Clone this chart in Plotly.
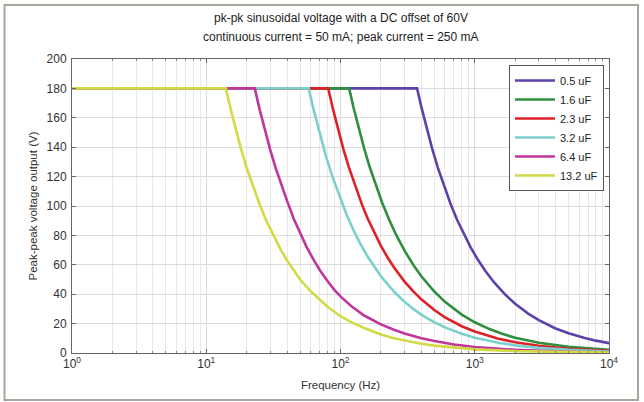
import plotly.graph_objects as go

# ---- data ----
labels = ["0.5 uF", "1.6 uF", "2.3 uF", "3.2 uF", "6.4 uF", "13.2 uF"]
colors = ["#5e41a8", "#2f8f3f", "#dc2127", "#7ccfcf", "#c0369c", "#d2da45"]

f_05 = [1, 372, 400, 440, 480, 530, 590, 660, 740, 830, 930, 1050, 1200, 1400, 1700, 2000, 2500, 3000, 4000, 5000, 6500, 8000, 10000]
v_05 = [180, 180, 167.4, 152.2, 139.5, 126.3, 113.5, 101.5, 90.5, 80.7, 72, 63.8, 55.8, 47.8, 39.4, 33.5, 26.8, 22.3, 16.7, 13.4, 10.3, 8.4, 6.7]

f_16 = [1, 116, 125, 138, 150, 165, 185, 205, 230, 260, 300, 350, 400, 500, 600, 700, 800, 1000, 1300, 1600, 2000, 3000, 5000, 10000]
v_16 = [180, 180, 167, 151.3, 139.2, 126.5, 112.9, 101.9, 90.8, 80.3, 69.6, 59.7, 52.2, 41.8, 34.8, 29.8, 26.1, 20.9, 16.1, 13.1, 10.4, 7.0, 4.2, 2.1]

f_23 = [1, 81, 88, 96, 105, 115, 130, 145, 160, 180, 200, 225, 250, 300, 350, 400, 500, 600, 800, 1000, 1500, 2000, 3000, 5000, 10000]
v_23 = [180, 180, 165.7, 151.9, 138.9, 126.8, 112.2, 100.6, 91.1, 81, 72.9, 64.8, 58.3, 48.6, 41.7, 36.5, 29.2, 24.3, 18.2, 14.6, 9.7, 7.3, 4.9, 2.9, 1.5]

f_32 = [1, 58, 63, 70, 78, 87, 100, 112, 125, 140, 160, 180, 200, 250, 300, 350, 400, 500, 600, 800, 1000, 1500, 2000, 3000, 5000, 10000]
v_32 = [180, 180, 165.7, 149.1, 133.8, 120, 104.4, 93.2, 83.5, 74.6, 65.3, 58, 52.2, 41.8, 34.8, 29.8, 26.1, 20.9, 17.4, 13.1, 10.4, 7.0, 5.2, 3.5, 2.1, 1.0]

f_64 = [1, 23, 25, 27, 30, 33, 36, 40, 45, 50, 56, 63, 70, 80, 90, 100, 120, 150, 200, 250, 300, 400, 500, 700, 1000, 2000, 5000, 10000]
v_64 = [180, 180, 165.6, 153.3, 138, 125.5, 115, 103.5, 91, 81.5, 72, 63.5, 56.5, 49, 43, 38.5, 32, 25.5, 19.5, 15.8, 13.3, 10.1, 8.1, 5.8, 4.1, 2.1, 0.8, 0.4]

f_132 = [1, 14, 15, 16, 18, 20, 22, 25, 28, 32, 36, 40, 45, 50, 60, 70, 80, 100, 120, 150, 200, 250, 300, 400, 500, 700, 1000, 2000, 5000, 10000]
v_132 = [180, 180, 168, 158, 140, 126, 115, 101, 90, 79, 70, 63, 56, 50, 42, 36, 31.5, 25, 21, 17, 12.6, 10, 8.4, 6.3, 5, 3.6, 2.5, 1.3, 0.5, 0.3]

x_tickvals = [1, 10, 100, 1000, 10000]
x_ticktext = ["10<sup>0</sup>", "10<sup>1</sup>", "10<sup>2</sup>", "10<sup>3</sup>", "10<sup>4</sup>"]
y_tickvals = [0, 20, 40, 60, 80, 100, 120, 140, 160, 180, 200]

series = [(f_05, v_05), (f_16, v_16), (f_23, v_23), (f_32, v_32), (f_64, v_64), (f_132, v_132)]

FONT = "Liberation Sans, Arial, sans-serif"

fig = go.Figure()
for (fx, vy), name, col in zip(series, labels, colors):
    fig.add_trace(go.Scatter(x=fx, y=vy, mode="lines", name=name,
                             line=dict(color=col, width=2.6)))

W, H = 644, 402
L, R, T, B = 72, 35, 59, 49
pw, ph = W - L - R, H - T - B

def px2paper_x(px):
    return (px - L) / pw

def px2paper_y(py):
    return (H - B - py) / ph

fig.update_layout(
    width=W, height=H,
    margin=dict(l=L, r=R, t=T, b=B, pad=0),
    paper_bgcolor="white", plot_bgcolor="white",
    font=dict(family=FONT, size=12, color="#333333"),
    showlegend=True,
    legend=dict(x=px2paper_x(604), xanchor="right", y=px2paper_y(65), yanchor="top",
                bgcolor="white", bordercolor="#555555", borderwidth=1,
                font=dict(size=11, color="#222222"),
                tracegroupgap=0, itemwidth=40),
    xaxis=dict(type="log", range=[0, 4],
               tickvals=x_tickvals, ticktext=x_ticktext,
               showgrid=True, gridcolor="#dcdcdc", gridwidth=1,
               showline=True, linecolor="#666666", linewidth=1, mirror="ticks",
               ticks="inside", ticklen=4, tickcolor="#666666",
               minor=dict(dtick="D1", showgrid=True, gridcolor="#e8e8e8",
                          ticks="inside", ticklen=2, tickcolor="#888888"),
               tickfont=dict(size=12, color="#333333"),
               title=dict(text="Frequency (Hz)", font=dict(size=11.5, color="#333333"), standoff=10),
               zeroline=False),
    yaxis=dict(range=[0, 200], tickvals=y_tickvals,
               showgrid=True, gridcolor="#dcdcdc", gridwidth=1,
               showline=True, linecolor="#666666", linewidth=1, mirror="ticks",
               ticks="inside", ticklen=4, tickcolor="#666666",
               tickfont=dict(size=12, color="#333333"), ticklabelstandoff=2,
               title=dict(text="Peak-peak voltage output (V)", font=dict(size=11.5, color="#333333"), standoff=6),
               zeroline=False),
    annotations=[
        dict(text="pk-pk sinusoidal voltage with a DC offset of 60V", xref="paper", yref="paper",
             x=0.5, y=px2paper_y(18), xanchor="center", yanchor="middle", showarrow=False,
             font=dict(size=12, color="#222222")),
        dict(text="continuous current = 50 mA; peak current = 250 mA", xref="paper", yref="paper",
             x=0.5, y=px2paper_y(37), xanchor="center", yanchor="middle", showarrow=False,
             font=dict(size=12, color="#222222")),
    ],
    shapes=[
        dict(type="rect", xref="paper", yref="paper",
             x0=px2paper_x(4.5), x1=px2paper_x(638), y0=px2paper_y(400), y1=px2paper_y(5),
             line=dict(color="#aaa59a", width=2), fillcolor="rgba(0,0,0,0)", layer="below"),
    ],
)

fig.write_html("out.html", config={"displayModeBar": False},
               post_script="document.body.style.margin='0';")
